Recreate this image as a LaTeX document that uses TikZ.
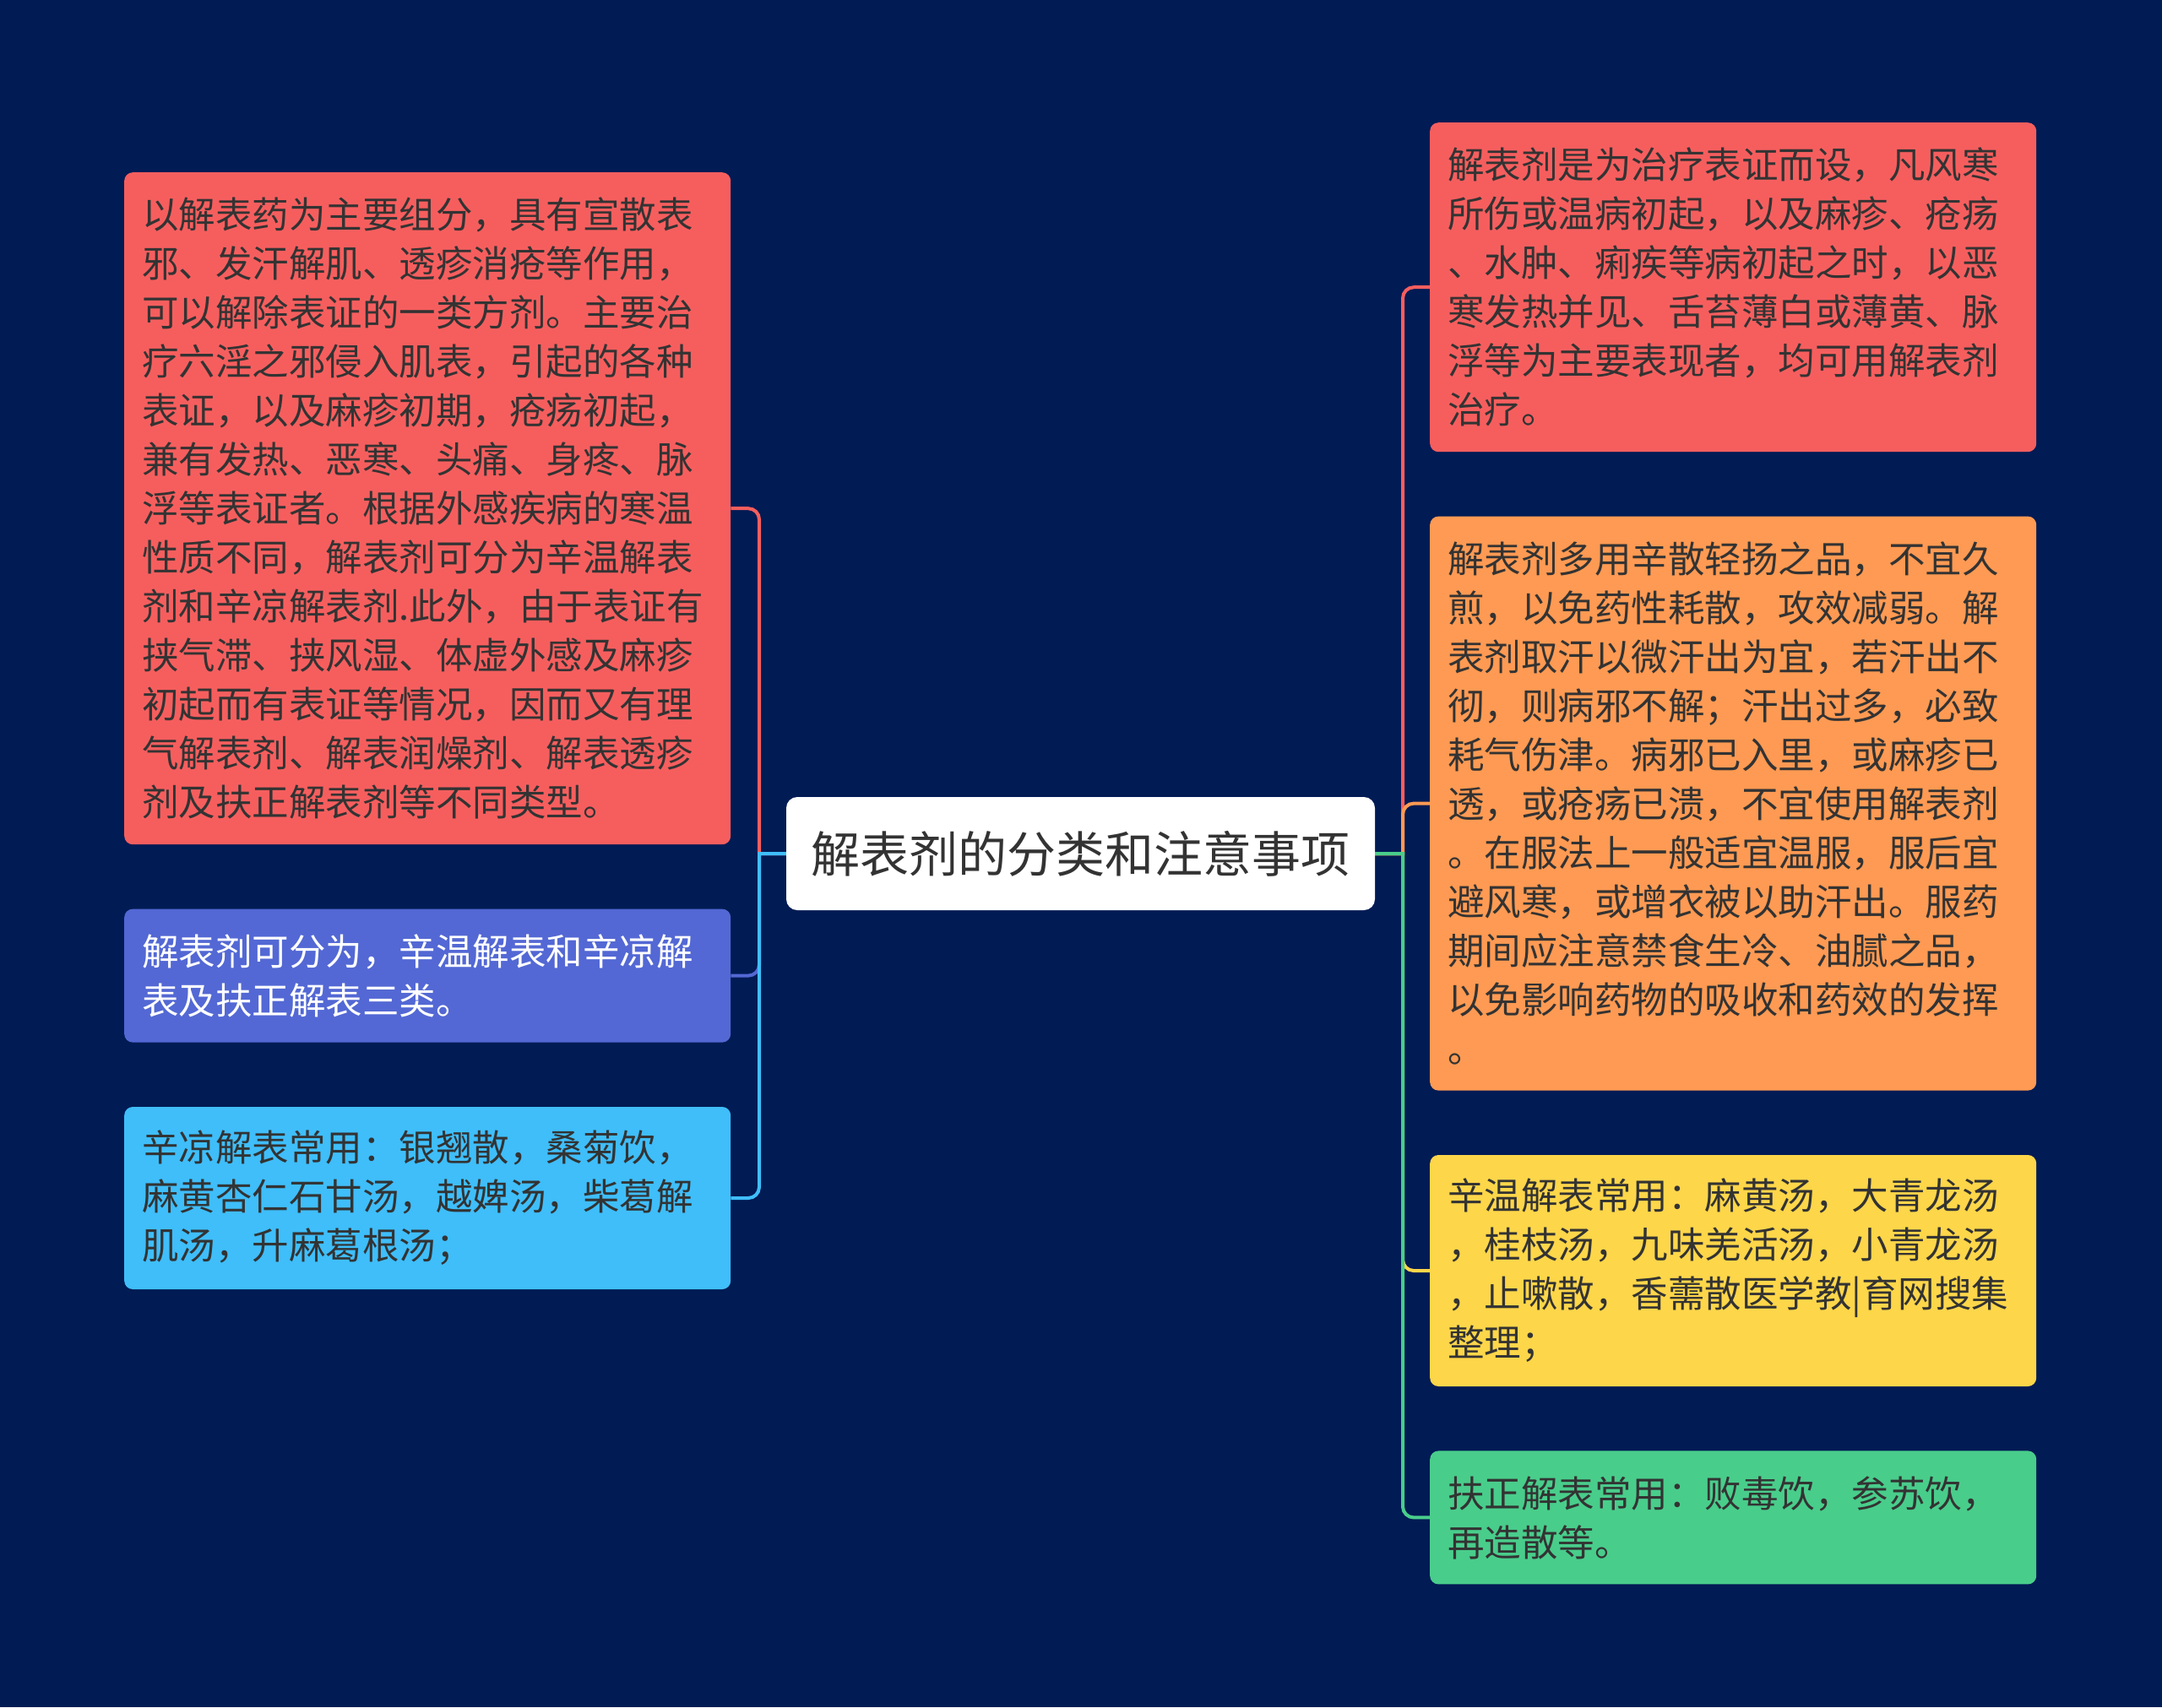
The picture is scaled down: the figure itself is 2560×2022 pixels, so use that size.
\documentclass[tikz,border=0pt]{standalone}
\usepackage{fontspec}
\setmainfont{Noto Sans CJK SC}
\usepackage{tikz}
\usetikzlibrary{positioning}
\definecolor{navybg}{HTML}{011B54}
\definecolor{ink}{HTML}{333333}
\definecolor{redc}{HTML}{F65E5E}
\definecolor{orangec}{HTML}{FE9A53}
\definecolor{yellowc}{HTML}{FDD64A}
\definecolor{greenc}{HTML}{49CD8B}
\definecolor{purplec}{HTML}{5368D4}
\definecolor{bluec}{HTML}{3FBEFA}

\begin{document}
\begin{tikzpicture}[x=1pt, y=-1pt,
  leaf/.style={rounded corners=10pt, fill=#1, text=ink, align=left, text width=676pt, inner xsep=21pt, inner ysep=8pt, font=\fontsize{43.5pt}{58pt}\selectfont},
  hubbox/.style={rounded corners=13pt, fill=white, text=ink, inner xsep=29.5pt, inner ysep=8pt, minimum height=134pt, font=\fontsize{58pt}{70pt}\selectfont},
  link/.style={draw=#1, line width=4pt},
  node distance=76pt
]
\fill[navybg] (0,0) rectangle (2560,2022);
\useasboundingbox (0,0) rectangle (2560,2022);

\node[hubbox] (hub) at (1279.5,1011) {解表剂的分类和注意事项};
\coordinate (lspine) at (899,1011);
\coordinate (rspine) at (1661,1011);

\node[leaf=redc, minimum height=796pt, anchor=north west] (use) at (147,204) {以解表药为主要组分，具有宣散表\\邪、发汗解肌、透疹消疮等作用，\\可以解除表证的一类方剂。主要治\\疗六淫之邪侵入肌表，引起的各种\\表证，以及麻疹初期，疮疡初起，\\兼有发热、恶寒、头痛、身疼、脉\\浮等表证者。根据外感疾病的寒温\\性质不同，解表剂可分为辛温解表\\剂和辛凉解表剂.此外，由于表证有\\挟气滞、挟风湿、体虚外感及麻疹\\初起而有表证等情况，因而又有理\\气解表剂、解表润燥剂、解表透疹\\剂及扶正解表剂等不同类型。};
\node[leaf=purplec, text=white, minimum height=158pt, below=of use] (kinds) {解表剂可分为，辛温解表和辛凉解\\表及扶正解表三类。};
\node[leaf=bluec, minimum height=216pt, below=of kinds] (cool) {辛凉解表常用：银翘散，桑菊饮，\\麻黄杏仁石甘汤，越婢汤，柴葛解\\肌汤，升麻葛根汤；};

\node[leaf=redc, minimum height=390pt, anchor=north west] (scope) at (1693,145) {解表剂是为治疗表证而设，凡风寒\\所伤或温病初起，以及麻疹、疮疡\\、水肿、痢疾等病初起之时，以恶\\寒发热并见、舌苔薄白或薄黄、脉\\浮等为主要表现者，均可用解表剂\\治疗。};
\node[leaf=orangec, minimum height=680pt, below=of scope] (caution) {解表剂多用辛散轻扬之品，不宜久\\煎，以免药性耗散，攻效减弱。解\\表剂取汗以微汗出为宜，若汗出不\\彻，则病邪不解；汗出过多，必致\\耗气伤津。病邪已入里，或麻疹已\\透，或疮疡已溃，不宜使用解表剂\\。在服法上一般适宜温服，服后宜\\避风寒，或增衣被以助汗出。服药\\期间应注意禁食生冷、油腻之品，\\以免影响药物的吸收和药效的发挥\\。};
\node[leaf=yellowc, minimum height=274pt, below=of caution] (warm) {辛温解表常用：麻黄汤，大青龙汤\\，桂枝汤，九味羌活汤，小青龙汤\\，止嗽散，香薷散医学教|育网搜集\\整理；};
\node[leaf=greenc, minimum height=158pt, below=of warm] (support) {扶正解表常用：败毒饮，参苏饮，\\再造散等。};

\draw[link=redc] (hub.west) -- (lspine) [rounded corners=13pt] |- (use.east);
\draw[link=purplec] (hub.west) -- (lspine) [rounded corners=13pt] |- (kinds.east);
\draw[link=bluec] (hub.west) -- (lspine) [rounded corners=13pt] |- (cool.east);

\draw[link=redc] (hub.east) -- (rspine) [rounded corners=13pt] |- (scope.west);
\draw[link=orangec] (hub.east) -- (rspine) [rounded corners=13pt] |- (caution.west);
\draw[link=yellowc] (hub.east) -- (rspine) [rounded corners=13pt] |- (warm.west);
\draw[link=greenc] (hub.east) -- (rspine) [rounded corners=13pt] |- (support.west);
\end{tikzpicture}
\end{document}
